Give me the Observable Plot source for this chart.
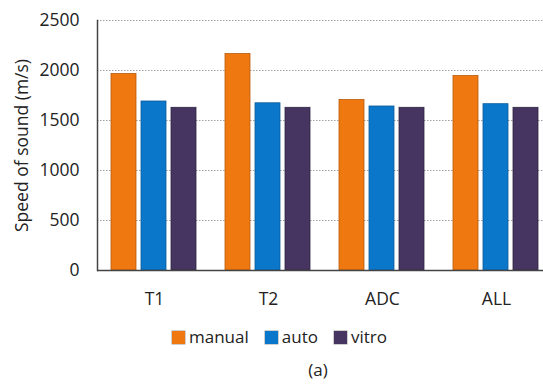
<!DOCTYPE html>
<html>
<head>
<meta charset="utf-8">
<script src="https://cdn.jsdelivr.net/npm/d3@7"></script>
<script src="https://cdn.jsdelivr.net/npm/@observablehq/plot@0.6"></script>
<style>
  html, body { margin: 0; padding: 0; background: #fff; }
  body { width: 543px; height: 389px; overflow: hidden; font-family: "Open Sans", sans-serif; color: #222; }
  #legend { display: flex; justify-content: center; align-items: center; gap: 16px; margin-top: 9px; margin-left: 16px; font-size: 17px; line-height: 20px; }
  .item { display: flex; align-items: center; gap: 4px; }
  .sw { width: 13px; height: 13px; display: inline-block; box-shadow: 0 0 0 0.5px rgba(60,60,60,0.5); }
  #caption { text-align: center; font-size: 17px; margin-top: 11px; margin-left: 93px; }
</style>
</head>
<body>
<div id="chart"></div>
<div id="legend"></div>
<div id="caption">(a)</div>
<script>
const categories = ["T1", "T2", "ADC", "ALL"];
const seriesNames = ["manual", "auto", "vitro"];
const manual = [1965, 2165, 1705, 1945];
const auto = [1690, 1672, 1640, 1663];
const vitro = [1627, 1627, 1627, 1627];
const yTicks = [0, 500, 1000, 1500, 2000, 2500];
const colors = ["#EF7811", "#0B77CB", "#463560"];
const strokes = ["#B85A0A", "#0A5A99", "#2E2340"];

const seriesValues = [manual, auto, vitro];
const data = [];
categories.forEach((c, i) => {
  seriesNames.forEach((s, j) => data.push({category: c, series: s, value: seriesValues[j][i]}));
});

const chart = Plot.plot({
  width: 543,
  height: 318,
  marginLeft: 97,
  marginRight: -10,
  marginTop: 20,
  marginBottom: 48,
  style: {fontFamily: "Open Sans, sans-serif", fontSize: "17.5px", color: "#222", background: "#fff"},
  fx: {domain: categories, padding: 0, label: null, axis: null},
  x: {domain: seriesNames, paddingInner: 0.16, paddingOuter: 0.42, axis: null},
  y: {domain: [0, 2500], label: null},
  color: {domain: seriesNames, range: colors},
  marks: [
    Plot.gridY(yTicks, {stroke: "#a0a0a0", strokeOpacity: 1, strokeDasharray: "1.5,1.5", strokeWidth: 1}),
    Plot.barY(data, {fx: "category", x: "series", y: "value", fill: "series",
      stroke: d => strokes[seriesNames.indexOf(d.series)], strokeWidth: 0.8}),
    Plot.ruleY([0], {stroke: "#444", strokeWidth: 1.5}),
    Plot.axisY({ticks: yTicks, tickSize: 0, tickPadding: 18, tickFormat: d => String(d), label: "Speed of sound (m/s)",
      labelAnchor: "center", labelArrow: "none", labelOffset: 82, fontSize: 17.5}),
    Plot.axisFx({anchor: "bottom", tickSize: 0, tickPadding: 22, label: null, fontSize: 17.5}),
    Plot.frame({anchor: "left", facet: "super", stroke: "#444", strokeWidth: 1.5})
  ]
});
document.getElementById("chart").appendChild(chart);

const legend = document.getElementById("legend");
seriesNames.forEach((s, j) => {
  const item = document.createElement("div");
  item.className = "item";
  const sw = document.createElement("span");
  sw.className = "sw";
  sw.style.background = colors[j];
  const t = document.createElement("span");
  t.textContent = s;
  item.appendChild(sw);
  item.appendChild(t);
  legend.appendChild(item);
});
</script>
</body>
</html>
